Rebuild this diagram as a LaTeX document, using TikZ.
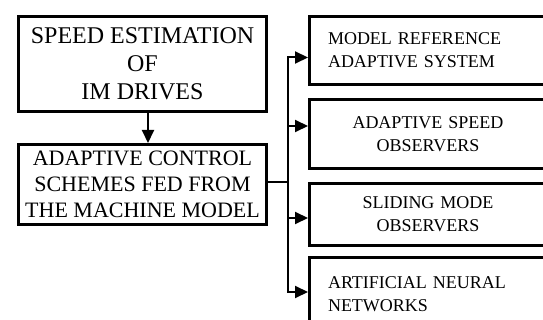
\documentclass[tikz,border=0pt]{standalone}
\usepackage{fontspec}
\setmainfont{Liberation Serif}
\usetikzlibrary{arrows.meta}
\tikzset{
mybox/.style={
  draw,
  line width=3pt,
  inner sep=0pt,
  align=center
  },
subbox/.style={
  mybox,
  minimum width=237pt,
  text width=200pt,
  font=\fontsize{18}{23}\selectfont
  }
}

\begin{document}
\begin{tikzpicture}[x=1pt, y=-1pt, >={Triangle[length=13pt,width=12pt]}, line width=2pt]
\clip (0,0) rectangle (543,320);
\node[mybox, minimum width=248pt, minimum height=95pt, font=\fontsize{24}{28}\selectfont]
at (142.5,64)
(speed) {SPEED ESTIMATION\\OF\\IM DRIVES};
\node[mybox, minimum width=248pt, minimum height=80pt, font=\fontsize{22}{26}\selectfont]
at (142.5,184.5)
(ctrl) {ADAPTIVE CONTROL\\SCHEMES FED FROM\\THE MACHINE MODEL};

\node[subbox, align=left, minimum height=68pt]
at (428,50.5)
(mras) {MODEL REFERENCE\\ADAPTIVE SYSTEM};
\node[subbox, minimum height=69pt]
at (428,134)
(aso) {ADAPTIVE SPEED\\OBSERVERS};
\node[subbox, minimum height=62pt]
at (428,214.5)
(smo) {SLIDING MODE\\OBSERVERS};
\node[subbox, align=left, minimum height=72pt]
at (428,294)
(ann) {ARTIFICIAL NEURAL\\NETWORKS};

\coordinate (fork) at (288,182);

\draw[->]
  ([xshift=5.5pt]speed.south) -- ([xshift=5.5pt]ctrl.north);
\draw
  ([yshift=2.5pt]ctrl.east) -- (fork);
\draw[->]
  (fork) |- ([yshift=-7pt]mras.west);
\draw[->]
  (fork) |- ([yshift=8pt]aso.west);
\draw[->]
  (fork) |- ([yshift=-3.5pt]smo.west);
\draw[->]
  (fork) |- ([yshift=2pt]ann.west);
\end{tikzpicture}
\end{document}
